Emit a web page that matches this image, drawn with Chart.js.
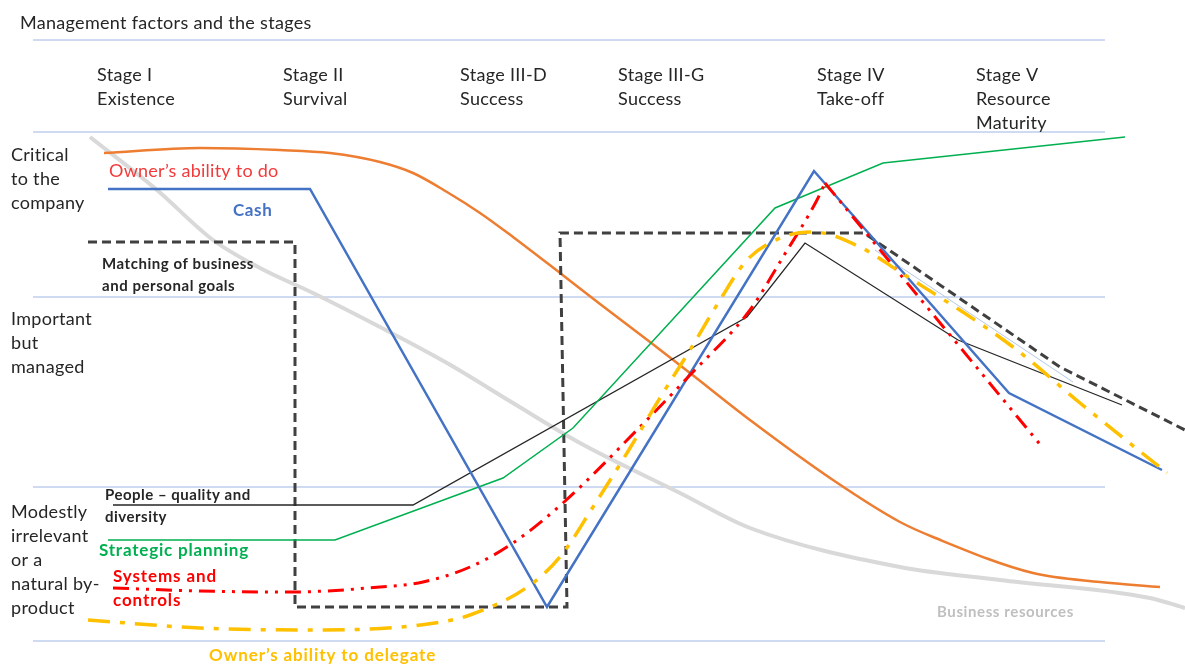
<!DOCTYPE html>
<html>
<head>
<meta charset="utf-8">
<script src="https://cdn.jsdelivr.net/npm/chart.js@4.4.1/dist/chart.umd.min.js"></script>
<style>
  html, body { margin: 0; padding: 0; background: #ffffff; }
  #wrap { width: 1185px; height: 664px; position: relative; }
</style>
</head>
<body>
<div id="wrap"><canvas id="chart"></canvas></div>
<script>
// x: progress through the growth stages (0..118.5)
// y: importance to the company (0 = natural by-product, ~102 = critical)
const levelLines = [120.2, 101.8, 68.8, 30.8, 0];
const levelSpan = [3.3, 110.5];

const stageNames = [
  ['Stage I', 'Existence'],
  ['Stage II', 'Survival'],
  ['Stage III-D', 'Success'],
  ['Stage III-G', 'Success'],
  ['Stage IV', 'Take-off'],
  ['Stage V', 'Resource', 'Maturity']
];
const stageX = [9.7, 28.3, 46.0, 61.8, 81.7, 97.6];

const importanceBands = [
  ['Critical', 'to the', 'company'],
  ['Important', 'but', 'managed'],
  ['Modestly', 'irrelevant', 'or a', 'natural by-', 'product']
];
const bandTop = [97.4, 64.6, 26.0];

// management factors
const ownerAbilityToDo = [[10.4,97.6],[20,98.6],[28,98.2],[33,97.6],[38,95.8],[41.3,93.6],[44.7,89.8],[48,85.6],[51.3,80.8],[56,73.6],[60,67.4],[65,59.8],[69,53.6],[75,44.2],[83.3,32.2],[90,23.8],[93.3,20.8],[103.3,13.6],[110,11.8],[116,10.8]];
const businessResources = [[9,100.8],[15.7,90.2],[21.3,80.2],[26,74.6],[31.3,69.6],[38,62.8],[44.7,55.6],[51.3,47.6],[58,39.6],[68,29.6],[75,22.6],[90,14.8],[100,12.2],[115,8.6],[118.5,6.6]];
const cash = [[10.8,90.4],[31,90.4],[54.7,6.8],[81.4,94],[100.9,49.6],[116.2,34.2]];
const strategicPlanning = [[10.8,20.2],[33.5,20.2],[50.3,32.6],[57.3,42.6],[77.5,86.6],[88.3,95.6],[112.5,100.8]];
const peopleQuality = [[11.3,27.2],[41.3,27.2],[74.7,64.8],[80.5,79.6],[95.8,60.2],[112.2,47.2]];
const goalsMatching = [[8.8,79.8],[29.5,79.8],[29.5,6.8],[56.7,6.8],[56,81.6],[86.4,81.6],[106,54.8],[118.5,42.2]];
const goalsMatchingShade = [[87.5,78.2],[107.3,51.8]];
const systemsRise = [[11.3,10.6],[20,10],[29,9.8],[38,10.8],[42.3,11.8],[47,14.8],[51.3,19.6],[56.3,27.6],[63.7,42.2],[69,53.2],[75,66.2],[78.3,76.8],[81.7,88.2],[82.5,91.6]];
const systemsFall = [[82.5,91.6],[104.3,38.6]];
const ownerAbilityToDelegate = [[8.8,4.2],[20,2.6],[32,2.2],[42,3.2],[47,5.2],[53.3,11.6],[56.3,17.6],[59.3,26.8],[62.7,37.6],[66.3,49.6],[69,58.2],[72,68.2],[74.7,76.2],[78.3,80.8],[81.3,81.8],[86,78.8],[89.7,74.2],[101.3,58.8],[108,47.6],[116.7,33.6]];

const pts = arr => arr.map(p => ({ x: p[0], y: p[1] }));

const FONT = 'Lato, "Open Sans", sans-serif';
const DARK = '#262626';

const labels = [
  { text: ['Management factors and the stages'], x: 2.0, y: 123.6, size: 18, weight: 'normal', color: DARK, ls: 0.3 },
  { text: ['Owner\u2019s ability to do'], x: 10.9, y: 94.0, size: 18, weight: 'normal', color: '#f23a3a', ls: 0.25 },
  { text: ['Cash'], x: 23.3, y: 86.0, size: 17, weight: 'bold', color: '#4472c4', ls: 0.6 },
  { text: ['Matching of business', 'and personal goals'], x: 10.2, y: 75.4, size: 15, weight: 'bold', color: DARK, lh: 4.4, ls: 0.55 },
  { text: ['People \u2013 quality and', 'diversity'], x: 10.5, y: 29.2, size: 15, weight: 'bold', color: DARK, lh: 4.4, ls: 0.5 },
  { text: ['Strategic planning'], x: 9.9, y: 18.0, size: 17, weight: 'bold', color: '#00b050', ls: 0.8 },
  { text: ['Systems and', 'controls'], x: 11.3, y: 12.8, size: 17, weight: 'bold', color: '#ff0000', lh: 4.8, ls: 0.9 },
  { text: ['Owner\u2019s ability to delegate'], x: 20.9, y: -3.0, size: 17, weight: 'bold', color: '#ffc000', ls: 0.9 },
  { text: ['Business resources'], x: 93.7, y: 5.8, size: 15, weight: 'bold', color: '#bfbfbf', ls: 0.6 }
];
stageNames.forEach((s, i) => labels.push({ text: s, x: stageX[i], y: 113.2, size: 18, weight: 'normal', color: DARK, lh: 4.8, ls: 0.3 }));
importanceBands.forEach((s, i) => labels.push({ text: s, x: 1.1, y: bandTop[i] - 0.2, size: 18, weight: 'normal', color: DARK, lh: 4.8, ls: 0.3 }));

const textPlugin = {
  id: 'factorText',
  afterDatasetsDraw(chart) {
    const { ctx, scales } = chart;
    const xs = scales.x, ys = scales.y;
    ctx.save();
    ctx.textAlign = 'left';
    ctx.textBaseline = 'middle';
    labels.forEach(l => {
      ctx.font = l.weight + ' ' + l.size + 'px ' + FONT;
      if ('letterSpacing' in ctx) ctx.letterSpacing = (l.ls || 0) + 'px';
      ctx.fillStyle = l.color;
      l.text.forEach((line, j) => {
        ctx.fillText(line, xs.getPixelForValue(l.x), ys.getPixelForValue(l.y - j * (l.lh || 0)));
      });
    });
    ctx.restore();
  }
};

const datasets = [];
levelLines.forEach((v, i) => datasets.push({
  label: 'level' + i, data: [{ x: levelSpan[0], y: v }, { x: levelSpan[1], y: v }],
  borderColor: '#9fb6e4', borderWidth: 1, order: 20
}));
datasets.push(
  { label: 'Business resources', data: pts(businessResources), borderColor: '#d9d9d9', borderWidth: 4, cubicInterpolationMode: 'monotone', order: 15 },
  { label: 'Owner\u2019s ability to do', data: pts(ownerAbilityToDo), borderColor: '#ed7d31', borderWidth: 2.5, cubicInterpolationMode: 'monotone', order: 14 },
  { label: 'Matching shade', data: pts(goalsMatchingShade), borderColor: '#b4c7e7', borderWidth: 1, order: 13 },
  { label: 'Matching of business and personal goals', data: pts(goalsMatching), borderColor: '#404040', borderWidth: 3, borderDash: [9, 5], order: 12 },
  { label: 'People \u2013 quality and diversity', data: pts(peopleQuality), borderColor: '#262626', borderWidth: 1.3, order: 11 },
  { label: 'Strategic planning', data: pts(strategicPlanning), borderColor: '#00b050', borderWidth: 1.5, order: 10 },
  { label: 'Cash', data: pts(cash), borderColor: '#4472c4', borderWidth: 2.5, order: 9 },
  { label: 'Systems and controls', data: pts(systemsRise), borderColor: '#ff0000', borderWidth: 3, borderDash: [16, 7, 3, 7, 3, 7], cubicInterpolationMode: 'monotone', order: 8 },
  { label: 'Systems and controls (decline)', data: pts(systemsFall), borderColor: '#ff0000', borderWidth: 3, borderDash: [16, 7, 3, 7, 3, 7], order: 8 },
  { label: 'Owner\u2019s ability to delegate', data: pts(ownerAbilityToDelegate), borderColor: '#ffc000', borderWidth: 3.5, borderDash: [22, 10, 5, 10], cubicInterpolationMode: 'monotone', order: 7 }
);
datasets.forEach(d => { d.showLine = true; d.fill = false; d.pointRadius = 0; d.clip = false; });

new Chart(document.getElementById('chart'), {
  type: 'scatter',
  data: { datasets },
  options: {
    responsive: true,
    maintainAspectRatio: false,
    devicePixelRatio: 1,
    animation: false,
    layout: { padding: 0 },
    plugins: { legend: { display: false }, tooltip: { enabled: false }, title: { display: false } },
    scales: {
      x: { type: 'linear', min: 0, max: 118.5, display: false },
      y: { type: 'linear', min: -4.6, max: 128.2, display: false }
    }
  },
  plugins: [textPlugin]
});
</script>
</body>
</html>
